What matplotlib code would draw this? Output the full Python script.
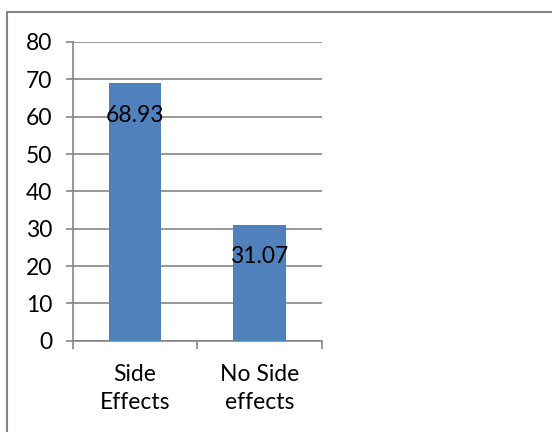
import matplotlib
matplotlib.use("Agg")
import matplotlib.pyplot as plt
from matplotlib.patches import Rectangle

categories = ["Side\nEffects", "No Side\neffects"]
values = [68.93, 31.07]
value_labels = ["68.93", "31.07"]
y_ticks = [0, 10, 20, 30, 40, 50, 60, 70, 80]

grey = "#868686"
bar_color = "#4F81BD"

plt.rcParams["font.family"] = ["Lato", "DejaVu Sans"]

fig = plt.figure(figsize=(5.52, 4.32), dpi=100)
ax = fig.add_axes([0.132, 0.211, 0.451, 0.692])

x = list(range(len(categories)))
ax.bar(x, values, width=0.42, color=bar_color, zorder=3)

for xi, v, lab in zip(x, values, value_labels):
    ax.annotate(lab, (xi, v), xytext=(0, -23), textcoords="offset points",
                ha="center", va="center", fontsize=16.5, color="black", zorder=4)

ax.set_xlim(-0.5, 1.5)
ax.set_ylim(0, 80)
ax.set_yticks(y_ticks)
ax.yaxis.grid(True, color=grey, linewidth=1.2, zorder=0)
ax.tick_params(axis="y", length=5, width=1.2, color=grey, labelsize=16.5, pad=10)

ax.set_xticks(x)
ax.set_xticklabels(categories, fontsize=16.5, linespacing=1.4)
ax.set_xticks([-0.5, 0.5, 1.5], minor=True)
ax.tick_params(axis="x", which="major", length=0, pad=17)
ax.tick_params(axis="x", which="minor", length=6, width=1.2, color=grey)

for side in ["top", "right"]:
    ax.spines[side].set_visible(False)
for side in ["left", "bottom"]:
    ax.spines[side].set_color(grey)
    ax.spines[side].set_linewidth(1.2)

# outer chart frame
fig.patches.append(Rectangle((7 / 552, -0.2), 1.2, 1.2 - 12 / 432,
                             transform=fig.transFigure, fill=False,
                             edgecolor=grey, linewidth=1.5))

fig.savefig("out.png", dpi=100)
